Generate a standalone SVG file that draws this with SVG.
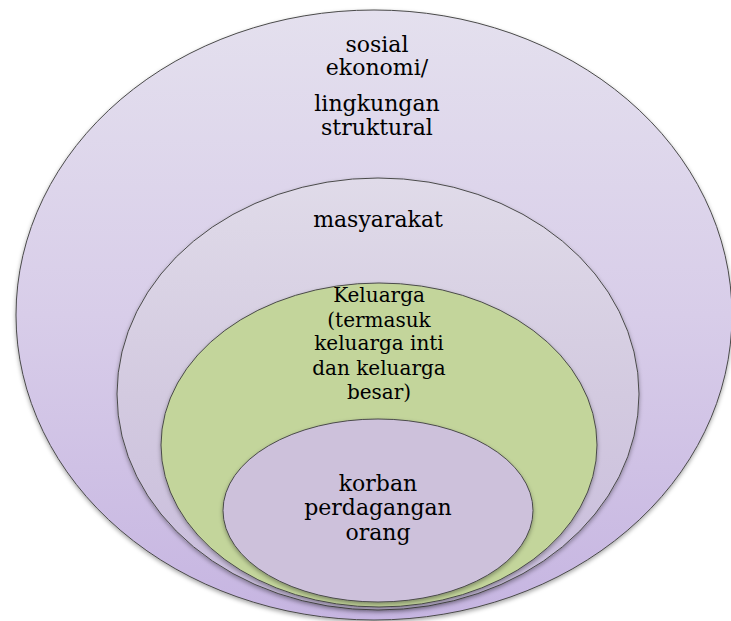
<svg xmlns="http://www.w3.org/2000/svg" width="731" height="621" viewBox="0 0 731 621">
<style>
  .ring { stroke: #4a4a4a; stroke-width: 1; }
  .lbl { font-family: "DejaVu Serif", "Liberation Serif", serif; fill: #000; text-anchor: middle; }
</style>
<defs>
  <linearGradient id="gOuter" x1="0" y1="0" x2="0" y2="1">
    <stop offset="0" stop-color="#e4e0ee"/>
    <stop offset="0.5" stop-color="#d8cde9"/>
    <stop offset="1" stop-color="#c6b5e1"/>
  </linearGradient>
  <linearGradient id="gMid" x1="0" y1="0" x2="0" y2="1">
    <stop offset="0" stop-color="#e0dbe9"/>
    <stop offset="0.5" stop-color="#d3cae0"/>
    <stop offset="1" stop-color="#c8bcdc"/>
  </linearGradient>
  <filter id="sh" x="-10%" y="-10%" width="120%" height="125%">
    <feDropShadow dx="0" dy="2" stdDeviation="2" flood-color="#000" flood-opacity="0.35"/>
  </filter>
</defs>
<g id="node-sosial-ekonomi">
  <ellipse class="ring" cx="374" cy="315" rx="358" ry="305" fill="url(#gOuter)" filter="url(#sh)"/>
  <text class="lbl" font-size="22" x="377" y="52">sosial</text>
  <text class="lbl" font-size="22" x="377" y="75">ekonomi/</text>
  <text class="lbl" font-size="22" x="377" y="111">lingkungan</text>
  <text class="lbl" font-size="22" x="377" y="135">struktural</text>
</g>
<g id="node-masyarakat">
  <ellipse class="ring" cx="378" cy="394" rx="261" ry="216" fill="url(#gMid)" filter="url(#sh)"/>
  <text class="lbl" font-size="22" x="378" y="227">masyarakat</text>
</g>
<g id="node-keluarga">
  <ellipse class="ring" cx="379" cy="445" rx="218" ry="162" fill="#c3d59b" filter="url(#sh)"/>
  <text class="lbl" font-size="20" x="379" y="302">Keluarga</text>
  <text class="lbl" font-size="20" x="379" y="327">(termasuk</text>
  <text class="lbl" font-size="20" x="379" y="350">keluarga inti</text>
  <text class="lbl" font-size="20" x="379" y="375">dan keluarga</text>
  <text class="lbl" font-size="20" x="379" y="399">besar)</text>
</g>
<g id="node-korban">
  <ellipse class="ring" cx="378" cy="510.5" rx="155" ry="91.5" fill="#cdc1db" filter="url(#sh)"/>
  <text class="lbl" font-size="22" x="378" y="491">korban</text>
  <text class="lbl" font-size="22" x="378" y="515">perdagangan</text>
  <text class="lbl" font-size="22" x="378" y="540">orang</text>
</g>
<g id="connectors"/>
</svg>
